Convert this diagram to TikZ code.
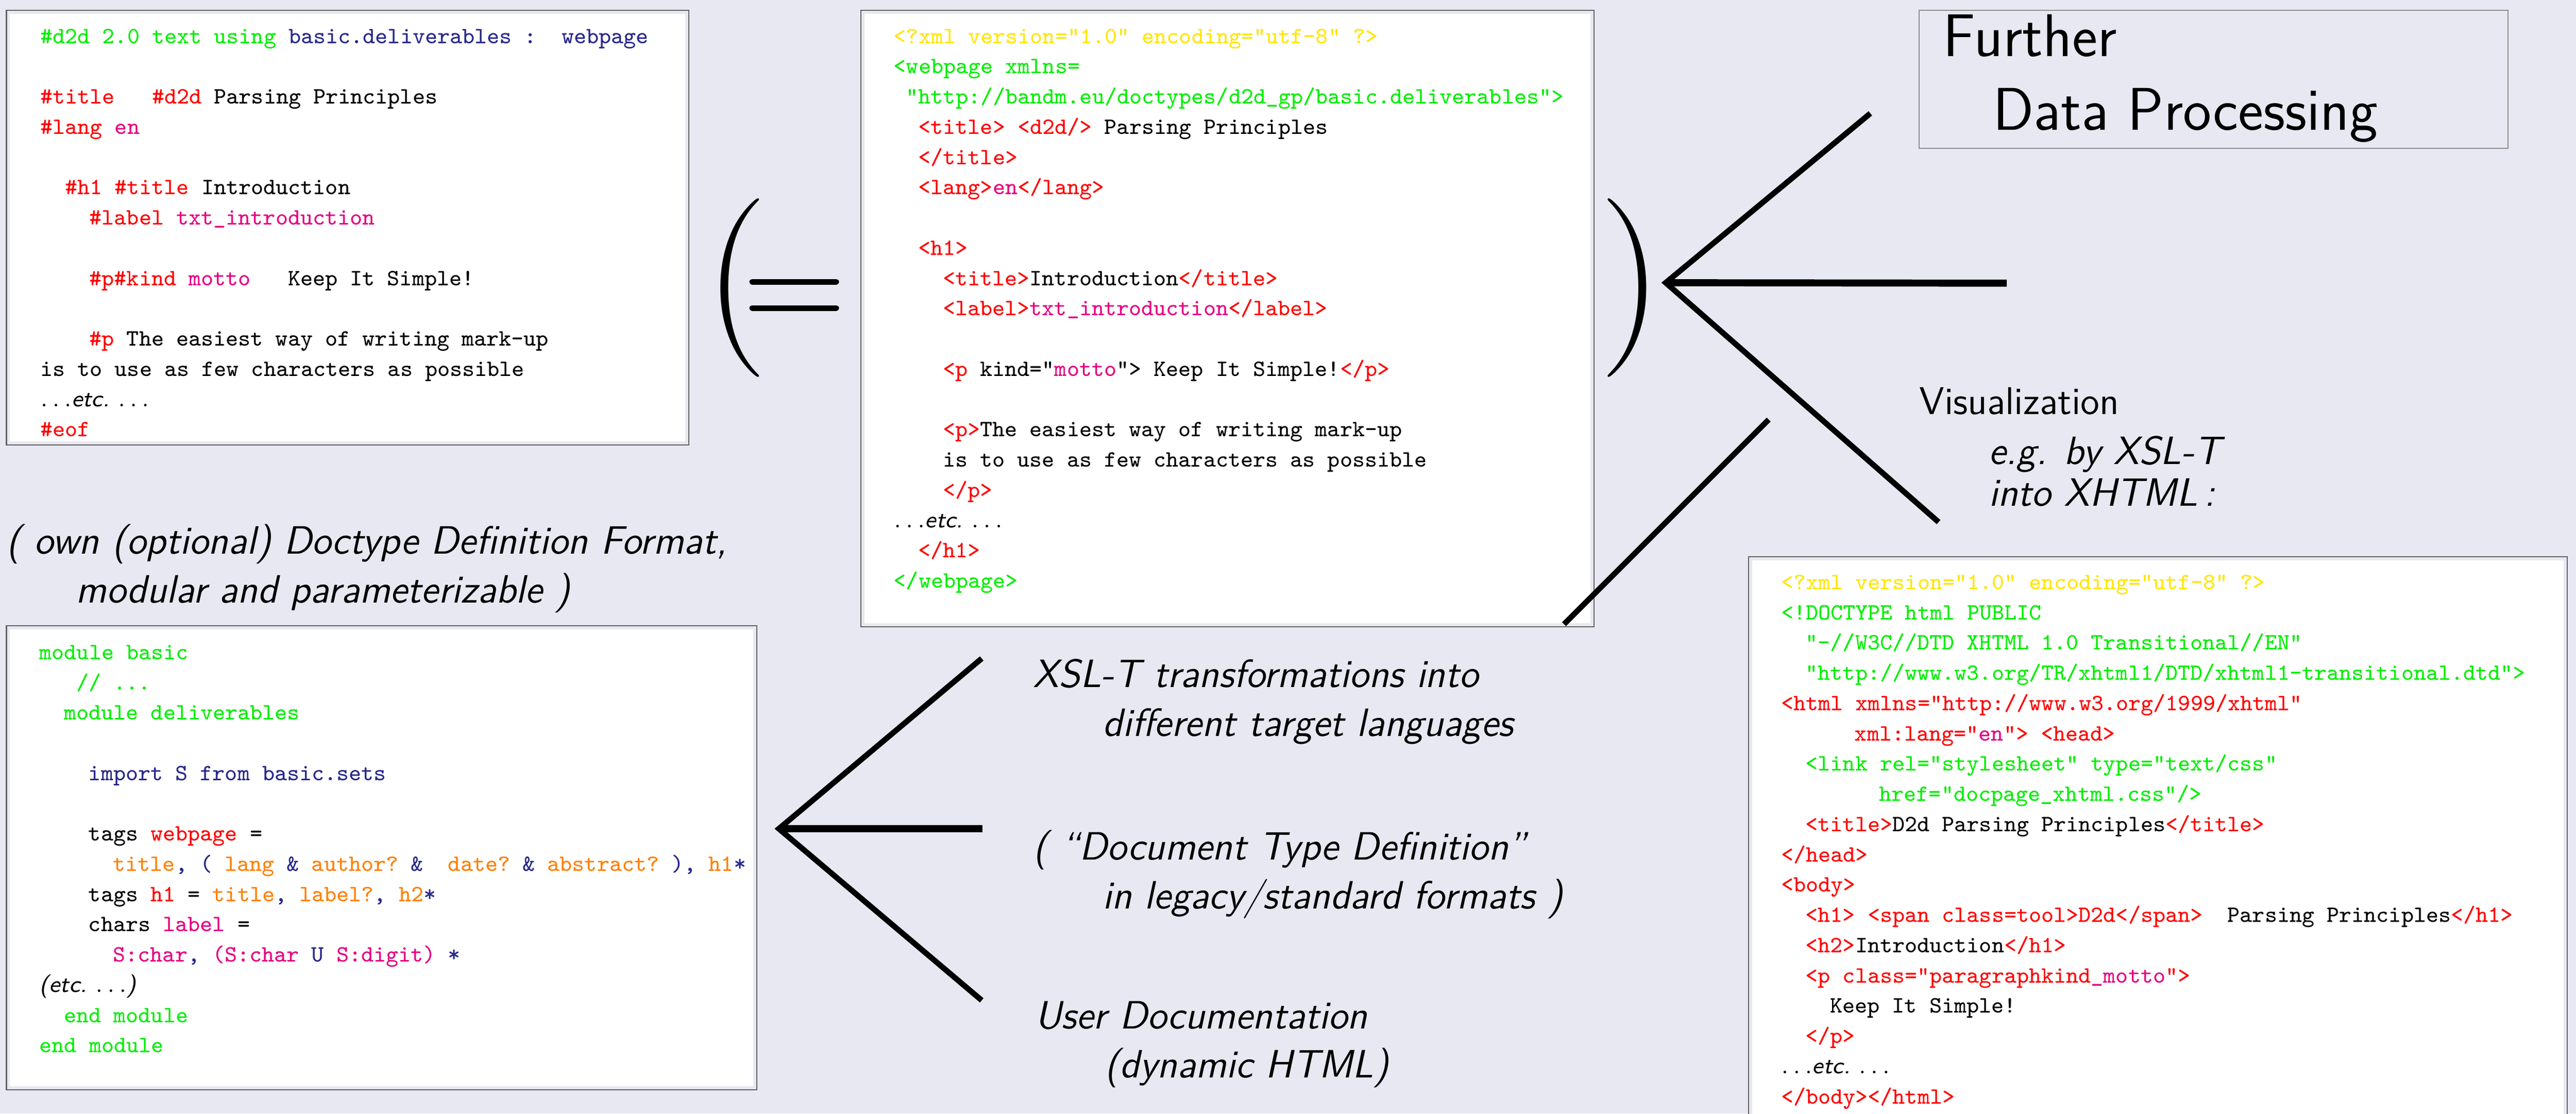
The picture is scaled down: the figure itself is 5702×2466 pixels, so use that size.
\documentclass[tikz,border=0pt]{standalone}
\usepackage{xcolor}
\usepackage{tikz}

\definecolor{bgcol}{RGB}{232,232,242}
\definecolor{tagred}{RGB}{255,0,0}
\definecolor{kwgreen}{RGB}{0,238,0}
\definecolor{valpink}{RGB}{230,0,130}
\definecolor{refnavy}{RGB}{40,40,140}
\definecolor{declyellow}{RGB}{255,230,0}
\definecolor{attrorange}{RGB}{255,128,0}

% colour markup for the code listings
\newcommand{\rd}[1]{\textcolor{tagred}{#1}}
\newcommand{\gr}[1]{\textcolor{kwgreen}{#1}}
\newcommand{\pk}[1]{\textcolor{valpink}{#1}}
\newcommand{\nv}[1]{\textcolor{refnavy}{#1}}
\newcommand{\yl}[1]{\textcolor{declyellow}{#1}}
\newcommand{\og}[1]{\textcolor{attrorange}{#1}}

\newcommand{\ind}[1]{\hspace*{\fpeval{0.525*#1}em}}
\newcommand{\cl}[1]{\hbox{#1}}
\newcommand{\noteindent}{\hspace*{7.7mm}}
\newcommand{\etcline}{\textsf{$\ldots$\textit{etc.}\ $\ldots$}}

\newcommand{\codefont}{\fontsize{7.36pt}{9.53pt}\selectfont\ttfamily\frenchspacing}
\newcommand{\notefont}{\fontsize{12.45pt}{15.45pt}\selectfont\sffamily\itshape}

\begin{document}
\begin{tikzpicture}[x=0.05mm, y=-0.05mm,
    codebox/.style={anchor=north west, inner sep=0pt, draw=black!62, line width=0.12mm, fill=bgcol,
      path picture={\fill[white] ([shift={(0.4mm,0.4mm)}]path picture bounding box.south west)
        rectangle ([shift={(-0.4mm,-0.4mm)}]path picture bounding box.north east);}},
    code/.style={anchor=base west, inner sep=0pt, font=\codefont},
    note/.style={anchor=base west, inner sep=0pt, font=\notefont},
    bigsf/.style={anchor=base west, inner sep=0pt, font=\fontsize{19pt}{23.2pt}\selectfont\sffamily},
    paren/.style={anchor=base west, inner sep=0pt, font=\fontsize{56.3pt}{60pt}\selectfont\rmfamily},
    eqbar/.style={line width=0.625mm, line cap=round},
    fork/.style={line width=0.62mm}]

    \useasboundingbox (0,0) rectangle (5702,2466);
    \fill[bgcol] (0,0) rectangle (5702,2466);

    % d2d source text
    \node[codebox, minimum width=75.5mm, minimum height=48.1mm] (d2dbox) at (13,22) {};
    \node[code] (d2dtext) at (88,96) {\vtop{%
        \cl{\gr{\#d2d 2.0 text using} \nv{basic.deliverables :~~webpage}}
        \cl{}
        \cl{\rd{\#title~~~\#d2d} Parsing Principles}
        \cl{\rd{\#lang} \pk{en}}
        \cl{}
        \cl{\ind{2}\rd{\#h1 \#title} Introduction}
        \cl{\ind{4}\rd{\#label} \pk{txt\_introduction}}
        \cl{}
        \cl{\ind{4}\rd{\#p\#kind} \pk{motto}~~~Keep It Simple!}
        \cl{}
        \cl{\ind{4}\rd{\#p} The easiest way of writing mark-up}
        \cl{is to use as few characters as possible}
        \cl{\etcline}
        \cl{\rd{\#eof}}}};

    % generated xml
    \node[codebox, minimum width=81.15mm, minimum height=68.25mm] (xmlbox) at (1904,22) {};
    \node[code] (xmltext) at (1977,96) {\vtop{%
        \cl{\yl{<?xml version="1.0" encoding="utf-8" ?>}}
        \cl{\gr{<webpage xmlns=}}
        \cl{\ind{1}\gr{"http://bandm.eu/doctypes/d2d\_gp/basic.deliverables">}}
        \cl{\ind{2}\rd{<title> <d2d/>} Parsing Principles}
        \cl{\ind{2}\rd{</title>}}
        \cl{\ind{2}\rd{<lang>}\pk{en}\rd{</lang>}}
        \cl{}
        \cl{\ind{2}\rd{<h1>}}
        \cl{\ind{4}\rd{<title>}Introduction\rd{</title>}}
        \cl{\ind{4}\rd{<label>}\pk{txt\_introduction}\rd{</label>}}
        \cl{}
        \cl{\ind{4}\rd{<p} kind="\pk{motto}"> Keep It Simple!\rd{</p>}}
        \cl{}
        \cl{\ind{4}\rd{<p>}The easiest way of writing mark-up}
        \cl{\ind{4}is to use as few characters as possible}
        \cl{\ind{4}\rd{</p>}}
        \cl{\etcline}
        \cl{\ind{2}\rd{</h1>}}
        \cl{\gr{</webpage>}}}};

    % doctype definition
    \node[note] (ddfnote) at (13,1226) {\vtop{%
        \hbox{( own (optional) Doctype Definition Format,}
        \hbox{\noteindent modular and parameterizable )}}};
    \node[codebox, minimum width=83.05mm, minimum height=51.4mm] (ddfbox) at (13,1384) {};
    \node[code] (ddftext) at (86,1460) {\vtop{%
        \cl{\gr{module basic}}
        \cl{\ind{3}\gr{// ...}}
        \cl{\ind{2}\gr{module deliverables}}
        \cl{}
        \cl{\ind{4}\nv{import S from basic.sets}}
        \cl{}
        \cl{\ind{4}tags \rd{webpage} =}
        \cl{\ind{6}\og{title}\nv{,} \nv{(} \og{lang} \nv{\&} \og{author?} \nv{\&}~~\og{date?} \nv{\&} \og{abstract?} \nv{),} \og{h1}\nv{*}}
        \cl{\ind{4}tags \rd{h1} = \og{title}\nv{,} \og{label?}\nv{,} \og{h2}\nv{*}}
        \cl{\ind{4}chars \pk{label} =}
        \cl{\ind{6}\pk{S:char}\nv{,} \pk{(S:char} \nv{U} \pk{S:digit)} \nv{*}}
        \cl{\textsf{\textit{(etc.\ $\ldots$)}}}
        \cl{\ind{2}\gr{end module}}
        \cl{\gr{end module}}}};

    % targets of the transformations
    \node[note] (xslnote) at (2286,1522) {\vtop{%
        \hbox{XSL-T transformations into}
        \hbox{\noteindent different target languages}}};
    \node[note] (dtdnote) at (2286,1904) {\vtop{%
        \hbox{( ``Document Type Definition''}
        \hbox{\noteindent in legacy/standard formats )}}};
    \node[note] (docnote) at (2290,2278) {\vtop{%
        \hbox{User Documentation}
        \hbox{\noteindent (dynamic HTML)}}};

    % further processing and visualization
    \node[draw=black!45, line width=0.1mm, anchor=north west, inner sep=0pt,
        minimum width=65.15mm, minimum height=15.25mm] (fdpbox) at (4247,22) {};
    \node[bigsf] (fdptext) at (4300,125) {\vtop{%
        \hbox{Further}
        \hbox{\hspace*{5.5mm}Data Processing}}};
    \node[note, font=\fontsize{12.2pt}{15.45pt}\selectfont\sffamily] (viznote) at (4247,917) {Visualization};
    \node[note] (vizhow) at (4401,1028) {\vtop{\baselineskip=4.6mm
        \hbox{e.g. by XSL-T}
        \hbox{into XHTML\,:}}};

    \node[codebox, minimum width=90.6mm, minimum height=63mm] (xhtmlbox) at (3869,1232) {};
    \node[code] (xhtmltext) at (3941,1305) {\vtop{%
        \cl{\yl{<?xml version="1.0" encoding="utf-8" ?>}}
        \cl{\gr{<!DOCTYPE html PUBLIC}}
        \cl{\ind{2}\gr{"-//W3C//DTD XHTML 1.0 Transitional//EN"}}
        \cl{\ind{2}\gr{"http://www.w3.org/TR/xhtml1/DTD/xhtml1-transitional.dtd">}}
        \cl{\rd{<html xmlns="http://www.w3.org/1999/xhtml"}}
        \cl{\ind{6}\rd{xml:lang="}\pk{en}\rd{"> <head>}}
        \cl{\ind{2}\gr{<link rel="stylesheet" type="text/css"}}
        \cl{\ind{8}\gr{href="docpage\_xhtml.css"/>}}
        \cl{\ind{2}\rd{<title>}D2d Parsing Principles\rd{</title>}}
        \cl{\rd{</head>}}
        \cl{\rd{<body>}}
        \cl{\ind{2}\rd{<h1> <span class=tool>D2d</span>}~~Parsing Principles\rd{</h1>}}
        \cl{\ind{2}\rd{<h2>}Introduction\rd{</h1>}}
        \cl{\ind{2}\rd{<p class="paragraphkind}\pk{\_motto}\rd{">}}
        \cl{\ind{4}Keep It Simple!}
        \cl{\ind{2}\rd{</p>}}
        \cl{\etcline}
        \cl{\rd{</body></html>}}}};

    % the "(= ... )" bracket round the xml
    \node[paren] (lparen) at (1558,736) {(};
    \node[paren] (rparen) at (3539,736) {)};
    \coordinate (eqtopl) at (1665,624);
    \coordinate (eqtopr) at (1851,624);
    \coordinate (eqbotl) at (1665,682);
    \coordinate (eqbotr) at (1851,682);
    \draw[eqbar] (eqtopl) -- (eqtopr);
    \draw[eqbar] (eqbotl) -- (eqbotr);

    % fork to the right
    \coordinate (outfork) at (3687,626);
    \coordinate (fdpend) at (4140,251);
    \coordinate (midend) at (4442,627);
    \coordinate (vizend) at (4291,1156);
    \draw[fork] (fdpend) -- (outfork) -- (vizend);
    \draw[fork, line width=0.78mm] (outfork) -- (midend);
    \coordinate (vizlinetop) at (3915,929);
    \coordinate (vizlinebot) at (3462,1382);
    \draw[fork] (vizlinetop) -- (vizlinebot);

    % fork from the doctype definition
    \coordinate (ddffork) at (1724,1835);
    \coordinate (xslend) at (2173,1458);
    \coordinate (dtdend) at (2175,1835);
    \coordinate (docend) at (2173,2215);
    \draw[fork] (xslend) -- (ddffork) -- (docend);
    \draw[fork, line width=0.78mm] (ddffork) -- (dtdend);
\end{tikzpicture}
\end{document}
